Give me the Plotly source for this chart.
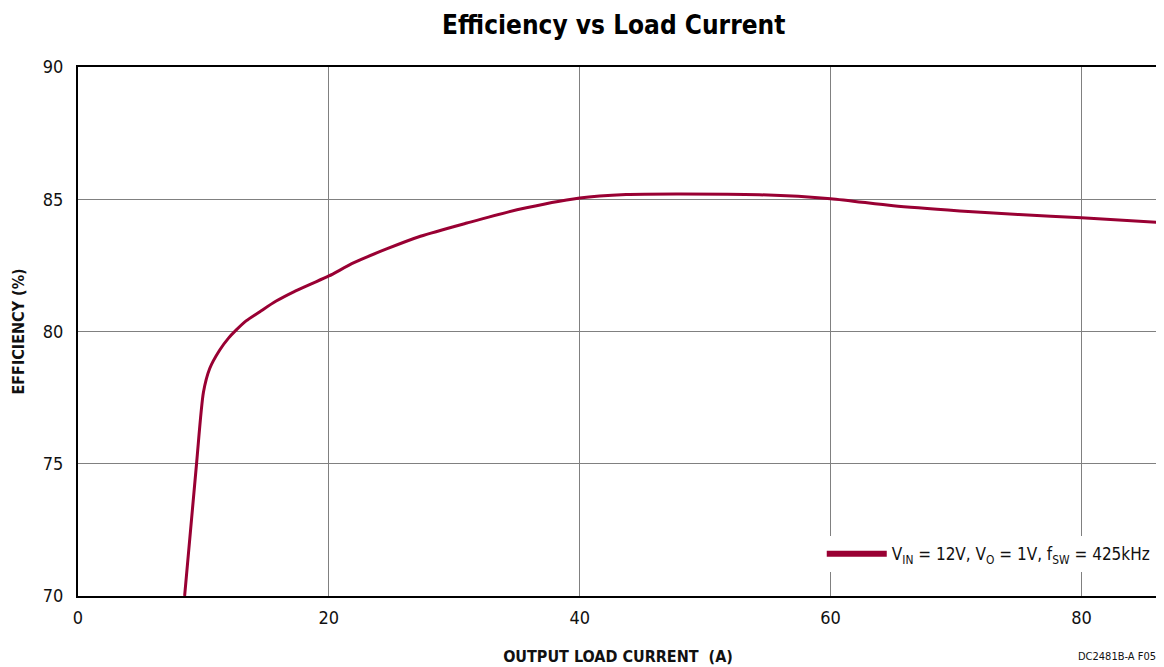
import plotly.graph_objects as go

# 负载电流 (A) 与效率 (%)
load_current = [8.5, 9.45, 10.0, 10.5, 11.3, 12.0, 12.6, 13.4, 14.5, 15.8, 17.2, 18.6, 20.0,
                22.0, 24.6, 27.3, 31.0, 35.0, 40.0, 43.7, 47.7, 54.3, 60.0, 65.0, 70.3,
                75.0, 80.0, 86.1]
efficiency = [70.0, 75.0, 77.7, 78.6, 79.3, 79.75, 80.05, 80.4, 80.75, 81.15, 81.5, 81.8, 82.1,
              82.6, 83.12, 83.6, 84.1, 84.6, 85.05, 85.18, 85.2, 85.17, 85.02, 84.75, 84.56,
              84.42, 84.3, 84.13]

x_ticks = [0, 20, 40, 60, 80]
y_ticks = [70, 75, 80, 85, 90]

font_family = "DejaVu Sans Condensed, Roboto, Arial, sans-serif"
legend_label = "V<sub>IN</sub> = 12V, V<sub>O</sub> = 1V, f<sub>SW</sub> = 425kHz"

fig = go.Figure()

fig.add_trace(go.Scatter(
    x=load_current, y=efficiency, mode="lines", showlegend=False,
    line=dict(color="#990033", width=3, shape="spline", smoothing=0.7),
))
# 图例用的粗线
fig.add_trace(go.Scatter(
    x=[None], y=[None], mode="lines", name=legend_label,
    line=dict(color="#990033", width=6),
))

fig.update_layout(
    width=1156, height=659,
    margin=dict(l=70, r=4, t=59, b=71),
    paper_bgcolor="white", plot_bgcolor="white",
    font=dict(family=font_family, size=18, color="#111111"),
    title=dict(text="<b>Efficiency vs Load Current</b>", x=0.524, xanchor="center",
               y=0.975, yanchor="middle", font=dict(size=26, color="black")),
    showlegend=True,
    legend=dict(x=0.997, y=0.045, xanchor="right", yanchor="bottom",
                bgcolor="white", font=dict(size=17), itemwidth=60),
)

fig.update_xaxes(
    range=[0, 86.1], tickvals=x_ticks, showgrid=True, gridcolor="#808080", gridwidth=1,
    showline=True, linecolor="black", linewidth=2, mirror=True,
    ticks="outside", ticklen=4, tickcolor="rgba(0,0,0,0)",
    title=dict(text="<b>OUTPUT LOAD CURRENT  (A)</b>", font=dict(size=16), standoff=24),
    zeroline=False,
)
fig.update_yaxes(
    range=[70, 90], tickvals=y_ticks, showgrid=True, gridcolor="#808080", gridwidth=1,
    showline=True, linecolor="black", linewidth=2, mirror=True,
    ticks="outside", ticklen=9, tickcolor="rgba(0,0,0,0)",
    zeroline=False,
)

# 纵轴标题
fig.add_annotation(text="<b>EFFICIENCY (%)</b>", xref="paper", yref="paper",
                   x=-0.0555, y=0.5, xanchor="center", yanchor="middle",
                   textangle=-90, showarrow=False, font=dict(size=16, color="#111111"))

fig.add_annotation(text="DC2481B-A F05", xref="paper", yref="paper", x=1.0, y=-0.115,
                   xanchor="right", yanchor="middle", showarrow=False,
                   font=dict(size=11, color="#111111"))

fig.write_html("out.html")
